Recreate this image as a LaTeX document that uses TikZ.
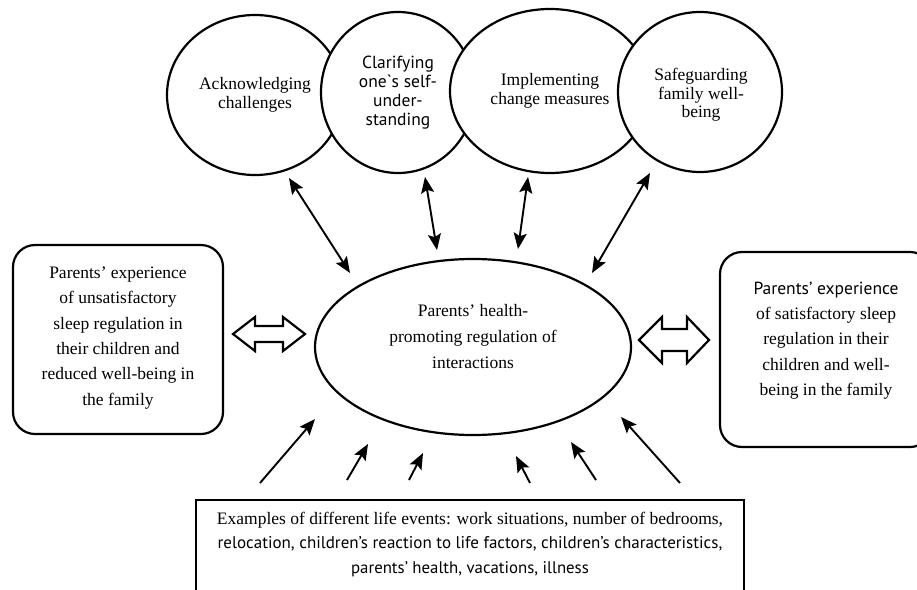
\documentclass[tikz,border=0pt]{standalone}
\usepackage{fontspec}
\setmainfont{Liberation Serif}
\newfontfamily\sansf{PT Sans}
\usetikzlibrary{arrows.meta,shapes.geometric}
\begin{document}
\begin{tikzpicture}[x=1pt,y=-1pt,
  ell/.style={draw, ellipse, line width=2.2pt, fill=white, inner sep=0pt, align=center,
    font=\fontsize{17.5}{19}\selectfont},
  rbox/.style={draw, rectangle, rounded corners=22pt, line width=2.2pt, inner sep=0pt},
  txt/.style={align=center, inner sep=0pt, font=\fontsize{17.5}{25.3}\selectfont},
  conn/.style={line width=1.9pt, -{Stealth[length=16pt,width=13pt,inset=3pt]}},
  bconn/.style={line width=1.9pt, {Stealth[length=16pt,width=13pt,inset=3pt]}-{Stealth[length=16pt,width=13pt,inset=3pt]}},
  hollow/.style={line width=2.2pt, line join=miter, fill=white}
]
\useasboundingbox (0,0) rectangle (917,589);
\clip (0,0) rectangle (917,589);

% top ellipses
\node[ell, minimum width=176pt, minimum height=160pt] (c1) at (255,95) {Acknowledging\\challenges};
\node[ell, minimum width=154pt, minimum height=161pt] (c2) at (398,92.5) {\sansf Clarifying\\\sansf one`s self-\\\sansf under-\\\sansf standing};
\node[ell, minimum width=200pt, minimum height=164pt] (c3) at (550,91) {Implementing\\change measures};
\node[ell, minimum width=164pt, minimum height=160pt] (c4) at (700,92) {};
\node[txt, font=\fontsize{17.5}{18.5}\selectfont] (c4t) at (701,95) {Safeguarding\\family well-\\being};

% central ellipse
\node[ell, minimum width=316pt, minimum height=176pt] (ce) at (473,347) {};
\node[txt, font=\fontsize{17.5}{26}\selectfont] (cet) at (473,337) {Parents’ health-\\promoting regulation of\\interactions};

% left box
\node[rbox, minimum width=210pt, minimum height=189pt] (lb) at (118,339.5) {};
\node[txt] (lbt) at (118,338) {Parents’ experience\\of unsatisfactory\\sleep regulation in\\their children and\\reduced well-being in\\the family};

% right box
\node[rbox, minimum width=212pt, minimum height=195pt] (rb) at (826,349.5) {};
\node[txt] (rbt) at (826,340.5) {{\sansf Parents’ experience}\\of satisfactory sleep\\regulation in their\\children and well-\\being in the family};

% bottom box
\node[draw, rectangle, line width=2.2pt, minimum width=548pt, minimum height=140pt, inner sep=0pt] (bb) at (470,570) {};
\node[txt, font=\fontsize{17.5}{24.5}\selectfont] (bbt) at (470,544.5) {Examples of different life events: work situations, number of bedrooms,\\{\sansf\fontsize{17}{24.5}\selectfont relocation, children’s reaction to life factors, children’s characteristics,}\\{\sansf\fontsize{16.8}{24.5}\selectfont parents’ health, vacations, illness}};

% hollow double arrows
\coordinate (ha1) at (269,334);
\coordinate (ha2) at (674,340);
\draw[hollow] (233,334) -- (255,317) -- (255,326) -- (283,326) -- (283,317) -- (305,334)
  -- (283,351) -- (283,342) -- (255,342) -- (255,351) -- cycle;
\draw[hollow] (639,340) -- (662,317) -- (662,329) -- (687,329) -- (687,317) -- (709,340)
  -- (687,363) -- (687,351) -- (662,351) -- (662,363) -- cycle;

% top double-headed arrows
\coordinate (t1a) at (289,178); \coordinate (t1b) at (350,273);
\coordinate (t2a) at (425,177); \coordinate (t2b) at (437,250);
\coordinate (t3a) at (528,177); \coordinate (t3b) at (518,249);
\coordinate (t4a) at (650,173); \coordinate (t4b) at (592,273);
\draw[bconn] (t1a) -- (t1b);
\draw[bconn] (t2a) -- (t2b);
\draw[bconn] (t3a) -- (t3b);
\draw[bconn] (t4a) -- (t4b);

% bottom arrows
\coordinate (b1a) at (260,483); \coordinate (b1b) at (315,419);
\coordinate (b2a) at (347,480); \coordinate (b2b) at (368,444);
\coordinate (b3a) at (409,480); \coordinate (b3b) at (423,453);
\coordinate (b4a) at (530,483); \coordinate (b4b) at (516,456);
\coordinate (b5a) at (596,480); \coordinate (b5b) at (571,442);
\coordinate (b6a) at (680,483); \coordinate (b6b) at (621,417);
\draw[conn] (b1a) -- (b1b);
\draw[conn] (b2a) -- (b2b);
\draw[conn] (b3a) -- (b3b);
\draw[conn] (b4a) -- (b4b);
\draw[conn] (b5a) -- (b5b);
\draw[conn] (b6a) -- (b6b);
\end{tikzpicture}
\end{document}
